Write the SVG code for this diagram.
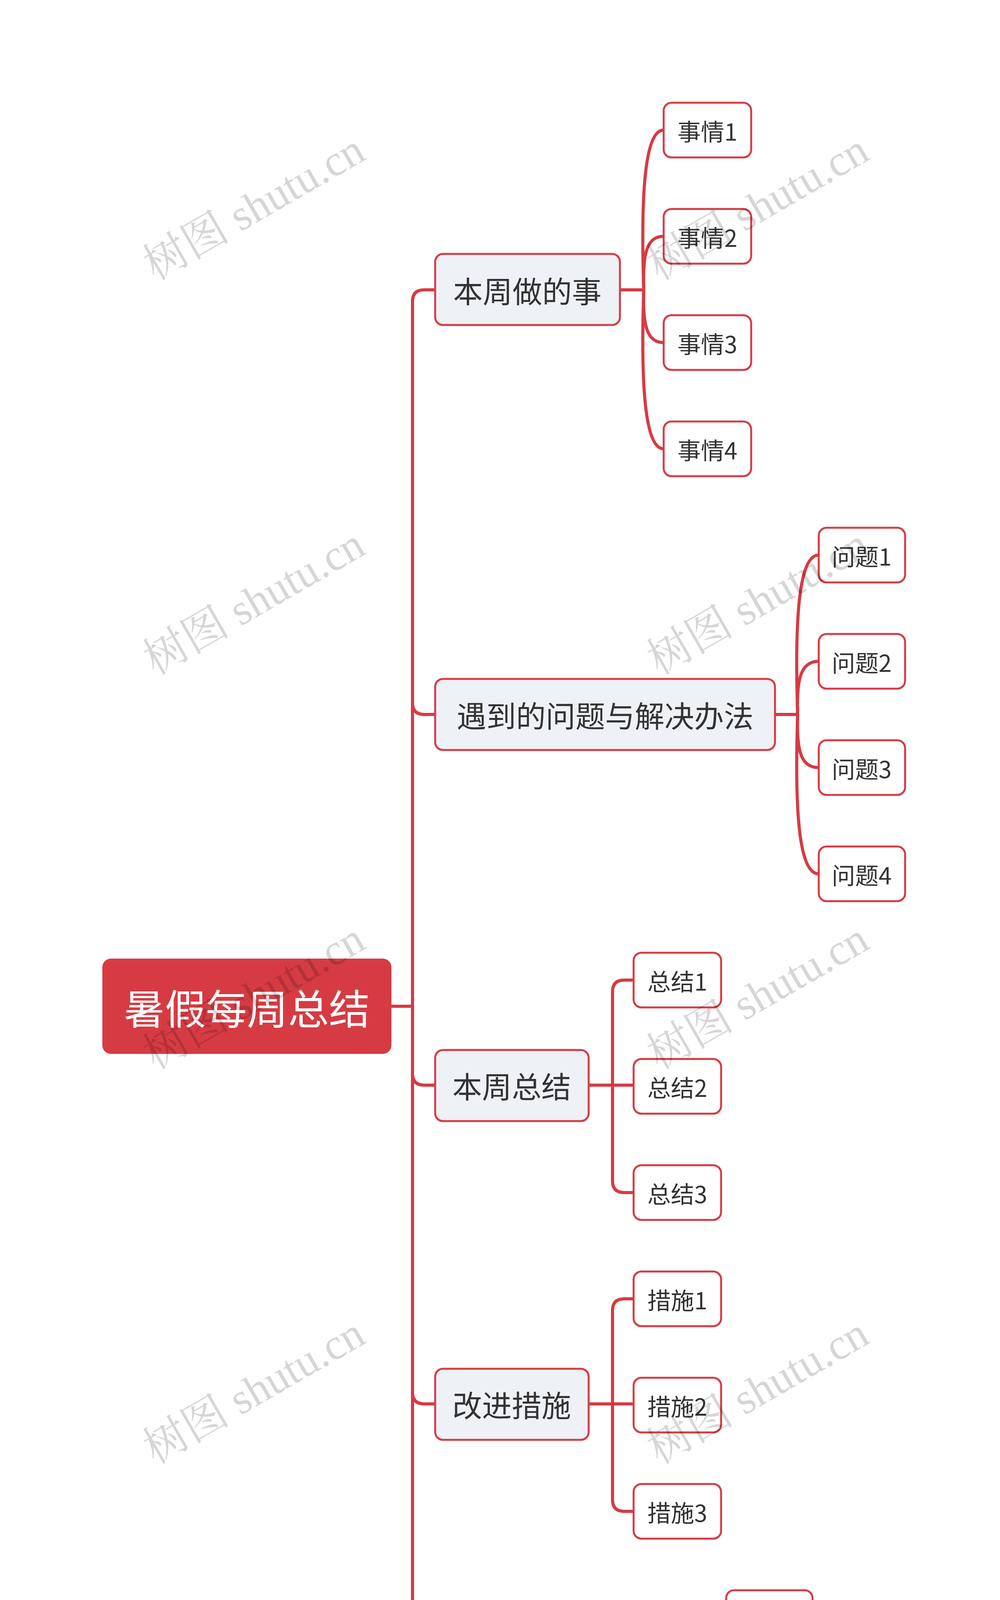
<svg xmlns="http://www.w3.org/2000/svg" width="2560" height="4979" viewBox="0 0 2560 4979">
<style>
.l1 rect{fill:#eef1f5;stroke:#d63b43;stroke-width:5}
.l2 rect{fill:#ffffff;stroke:#d63b43;stroke-width:5}
text{font-family:"Noto Sans CJK SC","Noto Sans",sans-serif;text-anchor:middle;dominant-baseline:central;fill:#333}
.l1 text{font-size:76px}
.l2 text{font-size:60px}
#conn path{fill:none;stroke:#d63b43;stroke-width:8;stroke-linecap:round}
.wm{font-family:"Liberation Serif","Noto Serif CJK SC","Noto Sans CJK SC",serif;font-size:112px;fill:#000;fill-opacity:0.16;text-anchor:middle}
</style>
<rect width="2560" height="4979" fill="#fff"/>
<g id="conn">
<path d="M1002,2576 H1056"/>
<path d="M1114,742 H1086 Q1056,742 1056,772 V4380 Q1056,4410 1086,4410 H1114"/>
<path d="M1056,1799 Q1056,1829 1086,1829 H1114"/>
<path d="M1056,2748 Q1056,2778 1086,2778 H1114"/>
<path d="M1056,3564 Q1056,3594 1086,3594 H1114"/>
<path d="M1587,742 H1648"/>
<path d="M1648,742 C1640,500 1650,333 1699,333"/>
<path d="M1648,742 C1645,650 1655,605 1699,605"/>
<path d="M1648,742 C1645,830 1655,877 1699,877"/>
<path d="M1648,742 C1640,980 1650,1149 1699,1149"/>
<path d="M1984,1829 H2042"/>
<path d="M2042,1829 C2034,1590 2044,1421 2096,1421"/>
<path d="M2042,1829 C2039,1740 2049,1693 2096,1693"/>
<path d="M2042,1829 C2039,1920 2049,1965 2096,1965"/>
<path d="M2042,1829 C2034,2070 2044,2237 2096,2237"/>
<path d="M1507,2778 H1622"/>
<path d="M1622,2509 H1598 Q1568,2509 1568,2539 V3023 Q1568,3053 1598,3053 H1622"/>
<path d="M1507,3594 H1622"/>
<path d="M1622,3325 H1598 Q1568,3325 1568,3355 V3839 Q1568,3869 1598,3869 H1622"/>
<path d="M1747,4410 H1859"/>
<path d="M1859,4141 H1835 Q1805,4141 1805,4171 V4655 Q1805,4685 1835,4685 H1859"/>
</g>
<g id="root"><rect x="262" y="2454" width="740" height="244" rx="22" fill="#d63b43"/><text x="632" y="2576" style="font-size:105px;fill:#fff">暑假每周总结</text></g>
<g id="n1" class="l1"><rect x="1114" y="650" width="473" height="182" rx="20"/><text x="1350" y="742">本周做的事</text></g>
<g id="n2" class="l1"><rect x="1114" y="1738" width="870" height="182" rx="20"/><text x="1549" y="1829">遇到的问题与解决办法</text></g>
<g id="n3" class="l1"><rect x="1114" y="2688" width="393" height="182" rx="20"/><text x="1310" y="2778">本周总结</text></g>
<g id="n4" class="l1"><rect x="1114" y="3504" width="393" height="182" rx="20"/><text x="1310" y="3594">改进措施</text></g>
<g id="n5" class="l1"><rect x="1114" y="4320" width="633" height="182" rx="20"/><text x="1430" y="4410">对于下周的期望</text></g>
<g id="a1" class="l2"><rect x="1699" y="263" width="224" height="140" rx="20"/><text x="1811" y="333">事情1</text></g>
<g id="a2" class="l2"><rect x="1699" y="535" width="224" height="140" rx="20"/><text x="1811" y="605">事情2</text></g>
<g id="a3" class="l2"><rect x="1699" y="807" width="224" height="140" rx="20"/><text x="1811" y="877">事情3</text></g>
<g id="a4" class="l2"><rect x="1699" y="1079" width="224" height="140" rx="20"/><text x="1811" y="1149">事情4</text></g>
<g id="b1" class="l2"><rect x="2096" y="1351" width="221" height="140" rx="20"/><text x="2206" y="1421">问题1</text></g>
<g id="b2" class="l2"><rect x="2096" y="1623" width="221" height="140" rx="20"/><text x="2206" y="1693">问题2</text></g>
<g id="b3" class="l2"><rect x="2096" y="1895" width="221" height="140" rx="20"/><text x="2206" y="1965">问题3</text></g>
<g id="b4" class="l2"><rect x="2096" y="2167" width="221" height="140" rx="20"/><text x="2206" y="2237">问题4</text></g>
<g id="c1" class="l2"><rect x="1622" y="2439" width="224" height="140" rx="20"/><text x="1734" y="2509">总结1</text></g>
<g id="c2" class="l2"><rect x="1622" y="2711" width="224" height="140" rx="20"/><text x="1734" y="2781">总结2</text></g>
<g id="c3" class="l2"><rect x="1622" y="2983" width="224" height="140" rx="20"/><text x="1734" y="3053">总结3</text></g>
<g id="d1" class="l2"><rect x="1622" y="3255" width="224" height="140" rx="20"/><text x="1734" y="3325">措施1</text></g>
<g id="d2" class="l2"><rect x="1622" y="3527" width="224" height="140" rx="20"/><text x="1734" y="3597">措施2</text></g>
<g id="d3" class="l2"><rect x="1622" y="3799" width="224" height="140" rx="20"/><text x="1734" y="3869">措施3</text></g>
<g id="e1" class="l2"><rect x="1859" y="4071" width="221" height="140" rx="20"/><text x="1969" y="4141">期望1</text></g>
<g id="e2" class="l2"><rect x="1859" y="4343" width="221" height="140" rx="20"/><text x="1969" y="4413">期望2</text></g>
<g id="e3" class="l2"><rect x="1859" y="4615" width="221" height="140" rx="20"/><text x="1969" y="4685">期望3</text></g>
<g id="watermarks">
<text class="wm" transform="translate(650,530) rotate(-30)">树图 shutu.cn</text>
<text class="wm" transform="translate(1940,530) rotate(-30)">树图 shutu.cn</text>
<text class="wm" transform="translate(650,1540) rotate(-30)">树图 shutu.cn</text>
<text class="wm" transform="translate(1940,1540) rotate(-30)">树图 shutu.cn</text>
<text class="wm" transform="translate(650,2550) rotate(-30)">树图 shutu.cn</text>
<text class="wm" transform="translate(1940,2550) rotate(-30)">树图 shutu.cn</text>
<text class="wm" transform="translate(650,3560) rotate(-30)">树图 shutu.cn</text>
<text class="wm" transform="translate(1940,3560) rotate(-30)">树图 shutu.cn</text>
<text class="wm" transform="translate(650,4570) rotate(-30)">树图 shutu.cn</text>
<text class="wm" transform="translate(1940,4570) rotate(-30)">树图 shutu.cn</text>
</g>
</svg>
